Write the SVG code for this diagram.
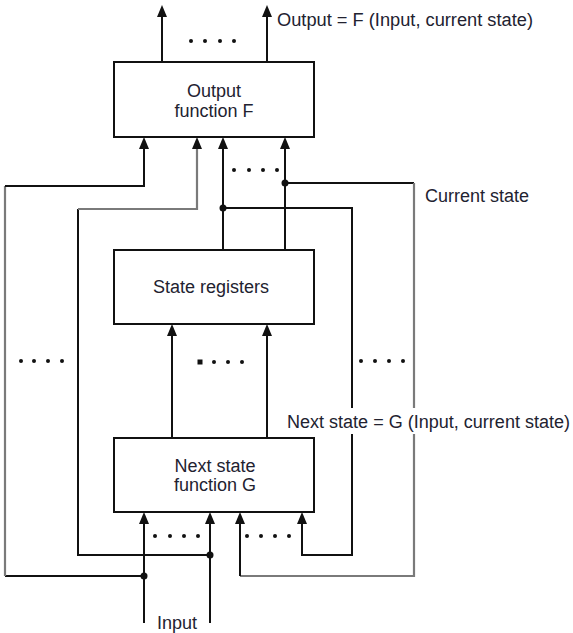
<svg xmlns="http://www.w3.org/2000/svg" width="573" height="633" viewBox="0 0 573 633">
  <style>
    .box { fill: #fff; stroke: #111; stroke-width: 2; }
    .wire { fill: none; stroke: #111; stroke-width: 2; }
    .wire.gray { stroke: #7a7a7a; stroke-width: 2.2; }
    .lbl { font-family: "Liberation Sans", Arial, sans-serif; font-size: 18px; fill: #222230; }
    .mid { text-anchor: middle; }
    .dot { fill: #111; }
    .head { fill: #111; }
  </style>
  <rect width="573" height="633" fill="#fff"/>

  <!-- connectors -->
  <g id="connectors">
    <!-- outputs of F -->
    <path class="wire" d="M162,62 V15"/>
    <path class="head" d="M162,5 L167,17 L157,17 Z"/>
    <path class="wire" d="M267,62 V15"/>
    <path class="head" d="M267,5 L272,17 L262,17 Z"/>

    <!-- input 1 to F -->
    <path class="wire" d="M144,576 H5"/>
    <path class="wire gray" d="M5,576 V186"/>
    <path class="wire" d="M5,186 H144 V149"/>
    <path class="head" d="M144,137 L149,149 L139,149 Z"/>

    <!-- input 2 to F -->
    <path class="wire" d="M210,555 H78 V209"/>
    <path class="wire gray" d="M78,209 H197 V149"/>
    <path class="head" d="M197,137 L202,149 L192,149 Z"/>

    <!-- current state bits to F -->
    <path class="wire" d="M223,250 V149"/>
    <path class="head" d="M223,137 L228,149 L218,149 Z"/>
    <path class="wire" d="M285,250 V149"/>
    <path class="head" d="M285,137 L290,149 L280,149 Z"/>

    <!-- current state feedback to G (broken around the next-state label) -->
    <path class="wire" d="M223,208 H352 V408"/>
    <path class="wire" d="M352,434 V555 H302 V524"/>
    <path class="head" d="M302,512 L307,524 L297,524 Z"/>
    <path class="wire" d="M285,183 H414"/>
    <path class="wire gray" d="M414,183 V408"/>
    <path class="wire gray" d="M414,434 V576 H240"/>
    <path class="wire" d="M240,576 V524"/>
    <path class="head" d="M240,512 L245,524 L235,524 Z"/>

    <!-- next state to registers -->
    <path class="wire" d="M172,438 V336"/>
    <path class="head" d="M172,324 L177,336 L167,336 Z"/>
    <path class="wire" d="M267,438 V336"/>
    <path class="head" d="M267,324 L272,336 L262,336 Z"/>

    <!-- external inputs -->
    <path class="wire" d="M144,623 V524"/>
    <path class="head" d="M144,512 L149,524 L139,524 Z"/>
    <path class="wire" d="M210,623 V524"/>
    <path class="head" d="M210,512 L215,524 L205,524 Z"/>

    <!-- junctions -->
    <circle class="dot" cx="144" cy="576" r="3.5"/>
    <circle class="dot" cx="210" cy="555" r="3.5"/>
    <circle class="dot" cx="223" cy="208" r="3.5"/>
    <circle class="dot" cx="285" cy="183" r="3.5"/>

    <!-- ellipsis dots -->
    <g class="dot">
      <circle cx="191" cy="41" r="2"/><circle cx="205" cy="41" r="2"/><circle cx="220" cy="41" r="2"/><circle cx="234" cy="41" r="2"/>
      <circle cx="234" cy="170" r="2"/><circle cx="249" cy="170" r="2"/><circle cx="263" cy="170" r="2"/><circle cx="277" cy="170" r="2"/>
      <circle cx="21" cy="361" r="2"/><circle cx="34" cy="361" r="2"/><circle cx="48" cy="361" r="2"/><circle cx="62" cy="361" r="2"/>
      <rect x="197.5" y="359.5" width="5" height="5"/><circle cx="214" cy="362" r="2"/><circle cx="228" cy="362" r="2"/><circle cx="242" cy="362" r="2"/>
      <circle cx="361" cy="361" r="2"/><circle cx="375" cy="361" r="2"/><circle cx="389" cy="361" r="2"/><circle cx="403" cy="361" r="2"/>
      <circle cx="155" cy="536" r="2"/><circle cx="170" cy="536" r="2"/><circle cx="184" cy="536" r="2"/><circle cx="198" cy="536" r="2"/>
      <circle cx="247" cy="536" r="2"/><circle cx="261" cy="536" r="2"/><circle cx="275" cy="536" r="2"/><circle cx="289" cy="536" r="2"/>
    </g>
  </g>

  <!-- nodes -->
  <g id="output-function">
    <rect class="box" x="114" y="62" width="200" height="75"/>
    <text class="lbl mid" x="214" y="97">Output</text>
    <text class="lbl mid" x="214" y="117">function F</text>
  </g>
  <g id="state-registers">
    <rect class="box" x="114" y="250" width="200" height="74"/>
    <text class="lbl mid" x="211" y="293">State registers</text>
  </g>
  <g id="next-state-function">
    <rect class="box" x="114" y="438" width="200" height="74"/>
    <text class="lbl mid" x="215" y="472">Next state</text>
    <text class="lbl mid" x="215" y="491">function G</text>
  </g>

  <!-- labels -->
  <g id="labels">
    <text class="lbl" x="277" y="26" textLength="256" lengthAdjust="spacingAndGlyphs">Output = F (Input, current state)</text>
    <text class="lbl" x="425" y="202">Current state</text>
    <text class="lbl" x="287" y="428" textLength="283" lengthAdjust="spacingAndGlyphs">Next state = G (Input, current state)</text>
    <text class="lbl mid" x="177" y="629">Input</text>
  </g>
</svg>
